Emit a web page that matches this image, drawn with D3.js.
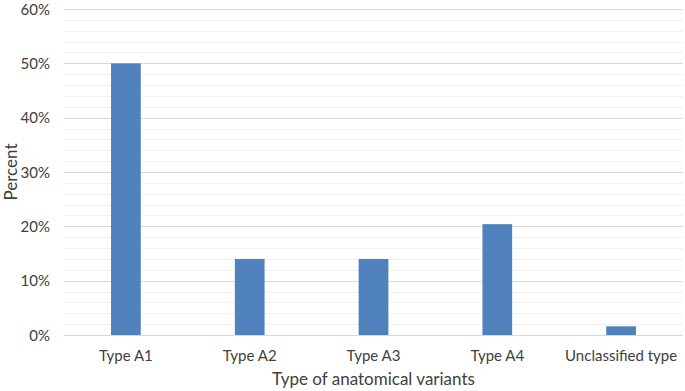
<!DOCTYPE html>
<html>
<head>
<meta charset="utf-8">
<script src="https://cdn.jsdelivr.net/npm/d3@7"></script>
<style>
  body { margin: 0; background: #fff; }
  text { font-family: Lato, "Open Sans", sans-serif; fill: #404040; }
</style>
</head>
<body>
<svg id="chart"></svg>
<script>
const categories = ["Type A1", "Type A2", "Type A3", "Type A4", "Unclassified type"];
const percents = [50, 14, 14, 20.4, 1.6];
const majorTicks = [0, 10, 20, 30, 40, 50, 60];
const minorTicks = d3.range(0, 61, 2);

const width = 685, height = 391;
const margin = {top: 9, right: 2, bottom: 56, left: 64};

const svg = d3.select("#chart")
    .attr("width", width)
    .attr("height", height);

const x = d3.scaleBand()
    .domain(categories)
    .range([margin.left, width - margin.right])
    .paddingInner(0.76)
    .paddingOuter(0.38);

const y = d3.scaleLinear()
    .domain([0, 60])
    .range([height - margin.bottom, margin.top]);

// minor grid
svg.append("g")
    .selectAll("line")
    .data(minorTicks.filter(d => d % 10 !== 0))
    .enter()
    .append("line")
    .attr("x1", margin.left)
    .attr("x2", width - margin.right)
    .attr("y1", d => Math.round(y(d)) + 0.5)
    .attr("y2", d => Math.round(y(d)) + 0.5)
    .attr("stroke", "#f2f2f2")
    .attr("stroke-width", 1);

// major grid
svg.append("g")
    .selectAll("line")
    .data(majorTicks)
    .enter()
    .append("line")
    .attr("x1", margin.left)
    .attr("x2", width - margin.right)
    .attr("y1", d => Math.round(y(d)) + 0.5)
    .attr("y2", d => Math.round(y(d)) + 0.5)
    .attr("stroke", "#d9d9d9")
    .attr("stroke-width", 1);

// bars
svg.append("g")
    .selectAll("rect")
    .data(categories)
    .enter()
    .append("rect")
    .attr("x", d => x(d))
    .attr("width", x.bandwidth())
    .attr("y", (d, i) => y(percents[i]))
    .attr("height", (d, i) => y(0) - y(percents[i]))
    .attr("fill", "#4f81bd");

// y axis labels
const yAxis = svg.append("g")
    .attr("transform", `translate(${margin.left - 11},0)`)
    .call(d3.axisLeft(y).tickValues(majorTicks).tickFormat(d => d + "%").tickSize(0));
yAxis.select(".domain").remove();
yAxis.selectAll("text")
    .attr("font-size", "15px")
    .attr("dy", "0.35em");

// x axis labels
const xAxis = svg.append("g")
    .attr("transform", `translate(0,${y(0)})`)
    .call(d3.axisBottom(x).tickSize(0).tickPadding(15));
xAxis.select(".domain").remove();
xAxis.selectAll("text")
    .attr("font-size", "15px");

// axis titles
svg.append("text")
    .attr("x", (margin.left + width - margin.right) / 2)
    .attr("y", 385)
    .attr("text-anchor", "middle")
    .attr("font-size", "17px")
    .text("Type of anatomical variants");

svg.append("text")
    .attr("transform", `translate(17,${(margin.top + y(0)) / 2}) rotate(-90)`)
    .attr("text-anchor", "middle")
    .attr("font-size", "17px")
    .text("Percent");
</script>
</body>
</html>
